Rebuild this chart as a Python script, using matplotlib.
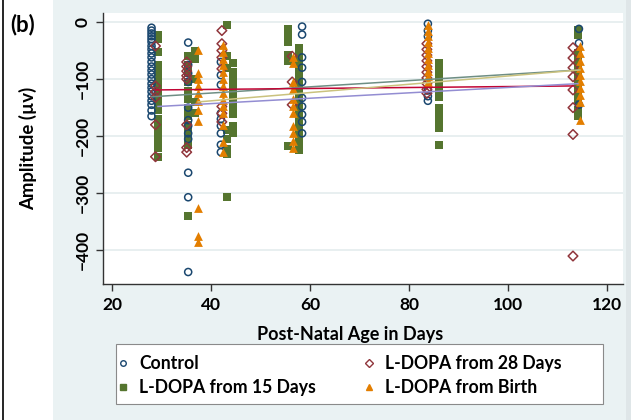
import matplotlib
matplotlib.use("Agg")
import matplotlib.pyplot as plt
from matplotlib.lines import Line2D
from matplotlib.patches import Rectangle

plt.rcParams['font.family'] = ['Lato', 'DejaVu Sans']
plt.rcParams['font.weight'] = 'bold'

# ---- data ----
control_ages = [28.0, 35.4, 42.0, 58.4, 83.8, 114.3]
control_amp = [
    [-10, -15, -20, -25, -30, -35, -42, -48, -55, -62, -70, -78, -85, -92, -100,
     -108, -115, -122, -130, -138, -145, -155, -165],
    [-36, -75, -90, -105, -150, -172, -182, -195, -205, -264, -307, -438],
    [-70, -93, -110, -160, -170, -182, -195, -215, -228],
    [-8, -22, -62, -80, -105, -133, -148, -162, -175, -195],
    [-3, -15, -25, -120, -130, -138],
    [-12, -37, -145],
]

d15_ages = [29.3, 35.4, 36.8, 43.2, 44.5, 55.6, 57.8, 86.0, 114.1]
d15_amp = [
    [-22, -30, -52, -75, -85, -95, -105, -115, -125, -135, -145, -155, -170, -180,
     -190, -200, -210, -220, -236],
    [-60, -75, -90, -105, -120, -135, -150, -165, -180, -195, -205, -215, -340],
    [-50, -65, -100, -140, -160],
    [-5, -60, -80, -190, -205, -222, -232, -307],
    [-72, -88, -100, -112, -125, -138, -152, -162, -182, -195],
    [-12, -22, -35, -58, -68, -218],
    [-45, -58, -70, -82, -94, -106, -118, -130, -142, -154, -166, -178, -190,
     -202, -214, -225],
    [-72, -84, -96, -108, -120, -132, -150, -162, -174, -186, -215],
    [-14, -22, -55, -67, -79, -91, -103, -115, -127, -139, -155, -165],
]

d28_ages = [28.8, 35.1, 42.2, 56.4, 83.6, 113.1]
d28_amp = [
    [-42, -112, -122, -132, -180, -236],
    [-70, -78, -86, -94, -100, -180, -220, -228],
    [-15, -38, -50, -62, -82, -148, -160, -175],
    [-60, -105, -145],
    [-38, -48, -58, -68, -78, -88, -98, -108, -118, -125],
    [-45, -63, -80, -96, -119, -150, -197, -410],
]

birth_ages = [37.4, 42.5, 56.6, 83.8, 114.5]
birth_amp = [
    [-49, -89, -100, -112, -125, -138, -154, -174, -325, -375, -385],
    [-40, -52, -64, -76, -88, -100, -112, -124, -136, -148, -160, -180, -210, -228],
    [-62, -72, -105, -118, -135, -148, -160, -182, -195, -208, -220],
    [-5, -15, -25, -35, -45, -55, -65, -75, -85, -95, -105],
    [-42, -55, -68, -80, -92, -104, -116, -128, -140, -171],
]

# linear fit lines (start/end)
fit_x = {"control": [28.0, 114.3], "d28": [28.8, 113.1], "d15": [29.3, 114.1], "birth": [37.4, 114.5]}
fit_y = {"control": [-131, -84], "d28": [-119, -112], "d15": [-148, -108], "birth": [-140, -84]}

labels = ["Control", "L-DOPA from 28 Days", "L-DOPA from 15 Days", "L-DOPA from Birth"]
xticks = [20, 40, 60, 80, 100, 120]
yticks = [0, -100, -200, -300, -400]

# ---- style ----
BG = '#eaf2f3'
NAVY, MAROON, GREEN, ORANGE = '#1a476f', '#90353b', '#55752f', '#e37e00'
TEAL, CRAN, LAV, KHAKI = '#6e8e84', '#c10534', '#938dd2', '#cac27e'

W, H = 631, 420
fig = plt.figure(figsize=(W / 100, H / 100), dpi=100, facecolor=BG)
fig.add_artist(Rectangle((0, 0), 53 / W, 1, transform=fig.transFigure,
                         facecolor='white', edgecolor='none', zorder=-5))
fig.add_artist(Line2D([3 / W, 3 / W], [0, 1], transform=fig.transFigure,
                      color='black', lw=1.2))
fig.add_artist(Rectangle((626 / W, 0), 5 / W, 1, transform=fig.transFigure,
                         facecolor='#dfe6e8', edgecolor='none', zorder=-4))

ax = fig.add_axes([103 / W, 1 - 284 / H, (623 - 103) / W, (284 - 13) / H])
ax.set_facecolor('white')


def flat(ages, amps):
    xs, ys = [], []
    for a, vals in zip(ages, amps):
        xs += [a] * len(vals)
        ys += vals
    return xs, ys


cx, cy = flat(control_ages, control_amp)
gx, gy = flat(d15_ages, d15_amp)
rx, ry = flat(d28_ages, d28_amp)
bx, by = flat(birth_ages, birth_amp)

ax.scatter(gx, gy, marker='s', s=30, color=GREEN, linewidths=0, zorder=3)
ax.scatter(cx, cy, marker='o', s=26, facecolors='none', edgecolors=NAVY, linewidths=1.1, zorder=3)
ax.scatter(rx, ry, marker='D', s=24, facecolors='none', edgecolors=MAROON, linewidths=1.1, zorder=3)
ax.scatter(bx, by, marker='^', s=40, color=ORANGE, linewidths=0, zorder=4)

ax.plot(fit_x["control"], fit_y["control"], color=TEAL, lw=1.1, zorder=5)
ax.plot(fit_x["d28"], fit_y["d28"], color=CRAN, lw=1.1, zorder=5)
ax.plot(fit_x["d15"], fit_y["d15"], color=LAV, lw=1.1, zorder=5)
ax.plot(fit_x["birth"], fit_y["birth"], color=KHAKI, lw=1.1, zorder=5)

ax.set_xlim(18.2, 123.2)
ax.set_ylim(-459, 15.8)
ax.set_xticks(xticks)
ax.set_yticks(yticks)
ax.set_yticklabels(['0', '\u2212100', '\u2212200', '\u2212300', '\u2212400'],
                   rotation=90, va='center')
ax.tick_params(axis='both', direction='out', length=5, width=1, color='#333333',
               labelsize=12.5, pad=4)
ax.grid(axis='y', color='#e4ecee', lw=1.2, zorder=0)
ax.set_axisbelow(True)
for s in ['top', 'right']:
    ax.spines[s].set_visible(False)
for s in ['left', 'bottom']:
    ax.spines[s].set_color('#333333')
    ax.spines[s].set_linewidth(1)

ax.set_xlabel('Post-Natal Age in Days', fontsize=13, fontweight='bold')
ax.xaxis.set_label_coords(0.475, -0.155)
ax.set_ylabel('Amplitude (\u00b5v)', fontsize=13.4, fontweight='bold')
ax.yaxis.set_label_coords(-0.127, 0.5)
fig.text(10 / W, 1 - 25 / H, '(b)', fontsize=16, fontweight='bold', va='center', ha='left')

# legend frame
fig.add_artist(Rectangle((116 / W, 1 - 404 / H), (603 - 116) / W, 60 / H,
                         transform=fig.transFigure, facecolor='white',
                         edgecolor='#8a8a8a', lw=0.8, zorder=1))

handles = [
    Line2D([], [], ls='none', marker='o', ms=4, mfc='none', mec=NAVY, mew=1),
    Line2D([], [], ls='none', marker='s', ms=5, color=GREEN),
    Line2D([], [], ls='none', marker='D', ms=4, mfc='none', mec=MAROON, mew=1),
    Line2D([], [], ls='none', marker='^', ms=5, color=ORANGE),
]
leg_labels = [labels[0], labels[2], labels[1], labels[3]]
leg = fig.legend(handles, leg_labels, ncol=2, loc='upper left',
                 bbox_to_anchor=(116 / W, 1 - 355 / H),
                 fontsize=12.7, frameon=False, handlelength=0.8,
                 handletextpad=0.5, borderpad=0, labelspacing=0.4,
                 columnspacing=2.6, borderaxespad=0)
leg.set_zorder(2)
for t in leg.get_texts():
    t.set_fontweight('bold')

fig.savefig('out.png', dpi=100, facecolor=BG)
